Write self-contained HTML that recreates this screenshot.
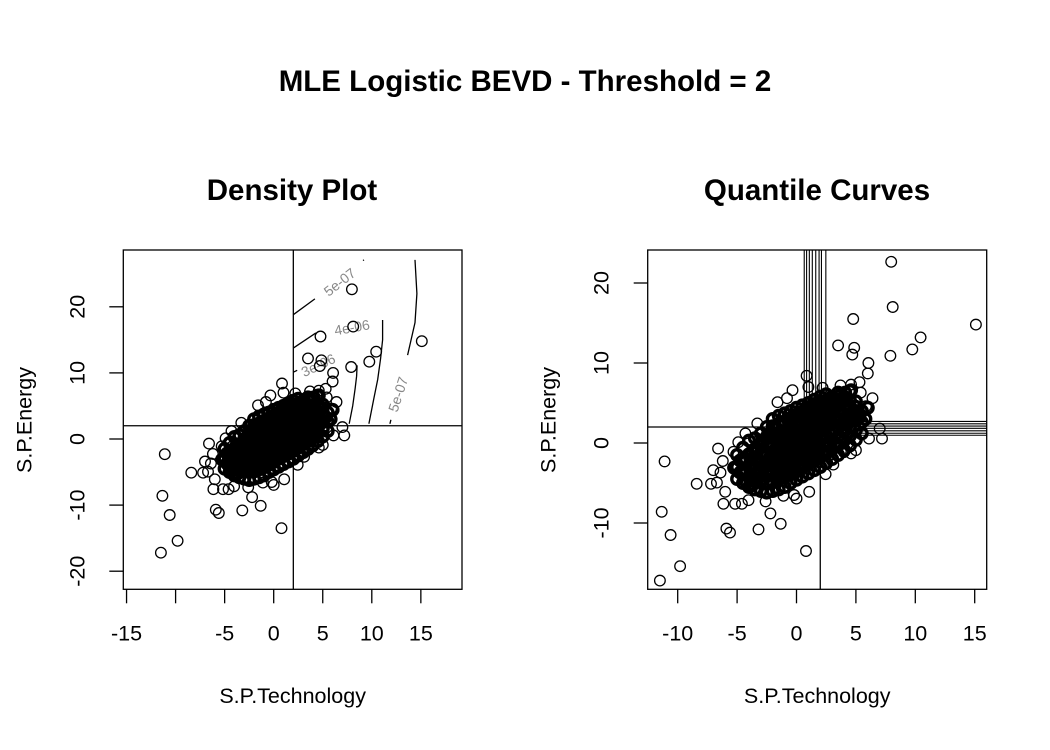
<!DOCTYPE html>
<html><head><meta charset="utf-8"><style>
html,body{margin:0;padding:0;background:#fff;}
svg{display:block;font-family:"Liberation Sans",Arial,sans-serif;}
</style></head><body>
<svg id="chart" width="1050" height="750" viewBox="0 0 1050 750" xmlns="http://www.w3.org/2000/svg">
<rect width="1050" height="750" fill="#fff"/>
<text x="525" y="91" text-anchor="middle" font-size="29.5" font-weight="bold">MLE Logistic BEVD - Threshold = 2</text>
<text x="292" y="200" text-anchor="middle" font-size="29.5" font-weight="bold">Density Plot</text>
<text x="817" y="200" text-anchor="middle" font-size="29.5" font-weight="bold">Quantile Curves</text>
<g id="left"></g>
<g id="right"></g>
</svg>
<script>
// ---- data ----
const outlierX = [7.97,8.1,4.77,15.1,10.45,9.75,7.9,3.5,4.86,4.7,6.05,6.0,0.85,1.0,-0.34,7.0,7.2,6.1,5.0,-11.1,-6.6,-8.4,-11.35,-10.6,-9.8,-11.5,-5.9,-5.6,-3.2,-1.33,-2.2,0.8,-2.6,0,1.07,-6.15,-5.17,-4.6,-4.04,-6.0,-7.0,-7.2,-6.7,-1.1,-0.2,3.1,2.45,4.0,4.6,6.4,5.85,5.4,5.3,4.6,3.7,2.2,-1.6,-0.8,-3.3,-4.3,-4.9,-5.3,-6.2,-6.4];
const outlierY = [22.65,17.0,15.5,14.8,13.2,11.7,10.9,12.2,11.9,11.05,10.0,8.7,8.4,7.0,6.6,1.8,0.55,0.55,-0.9,-2.3,-0.7,-5.1,-8.6,-11.5,-15.4,-17.2,-10.7,-11.2,-10.8,-10.1,-8.8,-13.5,-7.3,-6.95,-6.1,-7.6,-7.6,-7.6,-7.15,-6.1,-3.4,-5.1,-4.95,-6.6,-6.5,-2.7,-3.9,-1.15,-1.3,5.6,4.6,6.3,7.6,7.3,7.2,6.9,5.1,5.6,2.45,1.2,0.1,-1.1,-2.25,-3.7];
const coreX = [-5,-5,-5,-4.5,-4.5,-4.5,-4.5,-4,-4,-4,-4,-4,-3.5,-3.5,-3.5,-3.5,-3.5,-3.5,-3,-3,-3,-3,-3,-3,-3,-2.5,-2.5,-2.5,-2.5,-2.5,-2.5,-2.5,-2.5,-2,-2,-2,-2,-2,-2,-2,-2,-2,-1.5,-1.5,-1.5,-1.5,-1.5,-1.5,-1.5,-1.5,-1.5,-1,-1,-1,-1,-1,-1,-1,-1,-1,-0.5,-0.5,-0.5,-0.5,-0.5,-0.5,-0.5,-0.5,-0.5,0,0,0,0,0,0,0,0,0,0.5,0.5,0.5,0.5,0.5,0.5,0.5,0.5,0.5,1,1,1,1,1,1,1,1,1,1.5,1.5,1.5,1.5,1.5,1.5,1.5,1.5,1.5,2,2,2,2,2,2,2,2,2,2.5,2.5,2.5,2.5,2.5,2.5,2.5,2.5,2.5,3,3,3,3,3,3,3,3,3.5,3.5,3.5,3.5,3.5,3.5,3.5,3.5,4,4,4,4,4,4,4,4.5,4.5,4.5,4.5,4.5,4.5,4.5,5,5,5,5,5,5.5,5.5,5.5,
 -3.25,-3.25,-3.25,-2.75,-2.75,-2.75,-2.75,-2.25,-2.25,-2.25,-2.25,-2.25,-1.75,-1.75,-1.75,-1.75,-1.75,-1.25,-1.25,-1.25,-1.25,-1.25,-0.75,-0.75,-0.75,-0.75,-0.75,-0.25,-0.25,-0.25,-0.25,-0.25,0.25,0.25,0.25,0.25,0.25,0.75,0.75,0.75,0.75,0.75,1.25,1.25,1.25,1.25,1.25,1.75,1.75,1.75,1.75,1.75,2.25,2.25,2.25,2.25,2.25,2.75,2.75,2.75,2.75,3.25,3.25,3.25,3.25,3.75,3.75,3.75,4.25,4.25,4.25,
 -4.25,-4.25,-4.25,-3.75,-3.75,-3.75,-3.75,-4.75,-4.75,-5.25,-2.6,-2.1,-1.6,-1.1,-0.6,-0.1,0.4,0.9,1.4,1.9,2.4,2.9,3.4,3.9,4.4,4.9,-2.9,-2.4,-1.9,-1.4,-0.9,-0.4,0.1,0.6,1.1,1.6,2.1,2.6,3.1,3.6,4.1,4.6,-3.9,-3.4,5.3,5.8,6.0];
const coreY = [-4.5,-3,-1.5,-5,-3.6,-2.2,-0.6,-5.5,-4.2,-2.8,-1.4,0.3,-5.8,-4.6,-3.3,-2,-0.8,0.6,-6,-4.8,-3.6,-2.5,-1.3,0,1.2,-6.2,-5,-3.9,-2.8,-1.6,-0.4,0.8,2,-6,-4.9,-3.8,-2.7,-1.5,-0.3,0.9,2.1,3,-5.8,-4.6,-3.5,-2.4,-1.2,0,1.1,2.3,3.4,-5.5,-4.3,-3.2,-2,-0.9,0.2,1.4,2.5,3.7,-5,-3.9,-2.8,-1.6,-0.5,0.6,1.7,2.9,4,-4.6,-3.5,-2.3,-1.2,-0.1,1,2.1,3.3,4.4,-4.2,-3,-1.9,-0.8,0.3,1.4,2.5,3.6,4.7,-3.8,-2.6,-1.5,-0.4,0.7,1.8,2.9,4,5,-3.4,-2.2,-1.1,0,1.1,2.2,3.3,4.4,5.4,-3,-1.8,-0.7,0.4,1.5,2.6,3.7,4.8,5.8,-2.5,-1.3,-0.2,0.9,2,3.1,4.2,5.3,6.1,-2,-0.8,0.3,1.4,2.5,3.6,4.7,5.8,-1.5,-0.3,0.8,1.9,3,4.1,5.2,6.3,-0.9,0.3,1.4,2.5,3.6,4.7,5.8,-0.3,0.9,2,3.1,4.2,5.3,6.5,0.4,1.6,2.8,4,5.2,1.2,2.6,4,
 -4,-2.4,-0.8,-4.5,-3,-1.4,0.2,-4.6,-3.2,-1.8,-0.4,1.2,-4.2,-2.6,-1,0.6,2,-3.8,-2.2,-0.6,1,2.6,-3.4,-1.8,-0.2,1.4,3,-3,-1.4,0.2,1.8,3.4,-2.6,-1,0.6,2.2,3.8,-2.2,-0.6,1,2.6,4.2,-1.8,-0.2,1.4,3,4.6,-1.4,0.2,1.8,3.4,5,-1,0.6,2.2,3.8,5.2,-0.4,1.2,2.8,4.4,0,1.6,3.2,4.8,0.6,2.2,3.8,1.2,2.8,4.4,
 -4.8,-3.4,-2,-5.3,-4,-2.6,-1.1,-3.7,-2.2,-3.1,-2.9,-2.4,-1.9,-1.4,-0.9,-0.4,0.1,0.6,1.1,1.6,2.1,2.6,3.1,3.6,4.1,4.6,-0.4,0.1,0.6,1.1,1.6,2.1,2.6,3.1,3.6,4.1,4.6,5.1,5.5,5.9,6.3,6.6,-5.2,-4.9,3.3,3.0,4.4];
const leftXTicks = [-15,-10,-5,0,5,10,15];
const leftXLabels = ["-15","","-5","0","5","10","15"];
const leftYTicks = [-20,-10,0,10,20];
const rightXTicks = [-10,-5,0,5,10,15];
const rightYTicks = [-10,0,10,20];
const threshold = 2;
const quantVX = [0.65,0.85,1.08,1.33,1.62,1.9,2.1,2.47];
const quantHY = [2.7,2.4,2.12,1.83,1.52,1.22,0.97];
const contourA = [[2,18.8],[4.2,21.2]];
const contourA2 = [[9.1,27],[9.2,27.1]];
const contourB = [[2,13.75],[4.3,16.05]];
const contourC = [[2,10.1],[2.4,10.4]];
const contourD = [[8.5,11.15],[8.45,9.5],[8.3,7.6],[8.05,5],[7.7,2.3]];
const contourE = [[11.1,18],[11.1,15],[10.9,12.2],[10.6,9],[10.2,6.1],[9.7,2.3]];
const contourF = [[14.4,27.1],[14.6,22],[14.4,17.6],[13.65,12.7]];
const contourF2 = [[11.85,2.3],[11.95,2.9]];
const contourLabels = [{t:"5e-07",x:6.8,y:23.6,r:-38},{t:"4e-06",x:8,y:16.7,r:-10},{t:"3e-06",x:4.6,y:11,r:-25},{t:"5e-07",x:12.8,y:6.7,r:-72}];

// ---- helpers ----
const NS = "http://www.w3.org/2000/svg";
function mk(parent, tag, attrs){const e=document.createElementNS(NS,tag);for(const k in attrs)e.setAttribute(k,attrs[k]);parent.appendChild(e);return e;}
function panel(g, P, xTicks, xLabels, yTicks){
  const sx = v => P.x0 + P.kx*v, sy = v => P.y0 - P.ky*v;
  P.sx=sx;P.sy=sy;
  xTicks.forEach((t,i)=>{
    const l=mk(g,"line",{x1:sx(t),x2:sx(t),y1:P.bottom,y2:P.bottom+14,stroke:"#000","stroke-width":1.3});
    
    
    const lab = xLabels?xLabels[i]:String(t);
    if(lab){const tx=mk(g,"text",{x:sx(t),y:P.bottom+51,"text-anchor":"middle","font-size":21.5});tx.textContent=lab;
      
      }
  });
  yTicks.forEach(t=>{
    const l=mk(g,"line",{x1:P.left-14,x2:P.left,y1:sy(t),y2:sy(t),stroke:"#000","stroke-width":1.3});
    
    
    const tx=mk(g,"text",{x:0,y:0,"text-anchor":"middle","font-size":21.5,transform:`translate(${P.left-39},${sy(t)}) rotate(-90)`});
    tx.textContent=String(t);
    
    
  });
  const xt=mk(g,"text",{x:(P.left+P.right)/2,y:703,"text-anchor":"middle","font-size":21.5});xt.textContent="S.P.Technology";
  
  
  const yt=mk(g,"text",{x:0,y:0,"text-anchor":"middle","font-size":21.5,transform:`translate(${P.left-92},420) rotate(-90)`});yt.textContent="S.P.Energy";
  
  
}
function poly(g, pts, P, attrs){
  const d = pts.map((p,i)=>(i?"L":"M")+P.sx(p[0]).toFixed(1)+","+P.sy(p[1]).toFixed(1)).join("");
  return mk(g,"path",Object.assign({d:d,fill:"none",stroke:"#000","stroke-width":1.3},attrs||{}));
}
function points(g,P){
  const pg = mk(g,"g",{});
  
  
  for(let i=0;i<coreX.length;i++){
    const c=mk(pg,"circle",{cx:P.sx(coreX[i]).toFixed(1),cy:P.sy(coreY[i]).toFixed(1),r:5.3,fill:"none",stroke:"#000","stroke-width":3.4});
    
    
  }
  for(let i=0;i<outlierX.length;i++){
    const c=mk(pg,"circle",{cx:P.sx(outlierX[i]).toFixed(1),cy:P.sy(outlierY[i]).toFixed(1),r:5.3,fill:"none",stroke:"#000","stroke-width":1.3});
    
    
  }
}
function box(g,P){
  const b=mk(g,"rect",{x:P.left,y:P.top,width:P.right-P.left,height:P.bottom-P.top,fill:"none",stroke:"#000","stroke-width":1.3});
  
  
}

// ---- left panel ----
const L = {left:123.3,right:462,top:250,bottom:589.3,x0:273.7,kx:9.81,y0:439,ky:6.61};
const gl = document.getElementById("left");
panel(gl,L,leftXTicks,leftXLabels,leftYTicks);
mk(mk(document.getElementById("chart"),"clipPath",{id:"clipL"}),"rect",{x:L.left,y:L.top,width:L.right-L.left,height:L.bottom-L.top});
const cl = mk(gl,"g",{"clip-path":"url(#clipL)"});
contourLabels.forEach(c=>{
  const t=mk(cl,"text",{x:0,y:0,"text-anchor":"middle","dominant-baseline":"middle","font-size":14,fill:"#888",transform:`translate(${L.sx(c.x)},${L.sy(c.y)}) rotate(${c.r})`});
  t.textContent=c.t;
  
  
});
[contourA,contourA2,contourB,contourC,contourD,contourE,contourF,contourF2].forEach(c=>{
  const p=poly(cl,c,L);
  
  
});
let th1=mk(cl,"line",{x1:L.left,x2:L.right,y1:L.sy(threshold),y2:L.sy(threshold),stroke:"#000","stroke-width":1.3});


let th2=mk(cl,"line",{x1:L.sx(threshold),x2:L.sx(threshold),y1:L.top,y2:L.bottom,stroke:"#000","stroke-width":1.3});


points(cl,L);
box(gl,L);

// ---- right panel ----
const R = {left:647.7,right:986.7,top:250,bottom:589.3,x0:796.5,kx:11.88,y0:443,ky:8.0};
const gr = document.getElementById("right");
panel(gr,R,rightXTicks,null,rightYTicks);
mk(mk(document.getElementById("chart"),"clipPath",{id:"clipR"}),"rect",{x:R.left,y:R.top,width:R.right-R.left,height:R.bottom-R.top});
const cr = mk(gr,"g",{"clip-path":"url(#clipR)"});
quantVX.forEach(q=>{
  const l=mk(cr,"line",{x1:R.sx(q),x2:R.sx(q),y1:R.top,y2:R.sy(threshold),stroke:"#000","stroke-width":1.1});
  
  
});
quantHY.forEach(q=>{
  const l=mk(cr,"line",{x1:R.sx(threshold),x2:R.right,y1:R.sy(q),y2:R.sy(q),stroke:"#000","stroke-width":1.1});
  
  
});
let rh=mk(cr,"line",{x1:R.left,x2:R.sx(threshold),y1:R.sy(threshold),y2:R.sy(threshold),stroke:"#000","stroke-width":1.3});


let rv=mk(cr,"line",{x1:R.sx(threshold),x2:R.sx(threshold),y1:R.sy(threshold),y2:R.bottom,stroke:"#000","stroke-width":1.3});


points(cr,R);
box(gr,R);
</script>
</body></html>
